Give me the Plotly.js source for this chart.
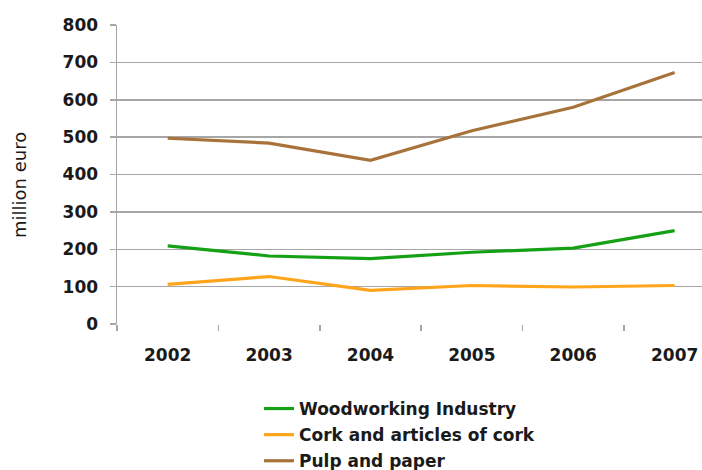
<!DOCTYPE html>
<html>
<head>
<meta charset="utf-8">
<script src="https://cdn.plot.ly/plotly-3.0.1.min.js"></script>
<style>html,body{margin:0;padding:0;background:#fff;}#chart{width:702px;height:470px;}</style>
</head>
<body>
<div id="chart"></div>
<script>
var years = ["2002", "2003", "2004", "2005", "2006", "2007"];
var woodworking = [209, 182, 175, 192, 203, 250];
var cork = [106, 127, 90, 103, 99, 103];
var pulpPaper = [497, 484, 438, 517, 580, 673];
var seriesNames = ["Woodworking Industry", "Cork and articles of cork", "Pulp and paper"];
var yTicks = [0, 100, 200, 300, 400, 500, 600, 700, 800];
var yTitle = "million euro";

var colors = ["#16a016", "#ffa51c", "#a8733a"];
var font = "DejaVu Sans, Liberation Sans, Arial, sans-serif";
var seriesData = [woodworking, cork, pulpPaper];

var traces = seriesData.map(function (vals, i) {
  return {
    type: "scatter",
    mode: "lines",
    x: years,
    y: vals,
    name: seriesNames[i],
    legendgroup: "g" + i,
    line: {color: colors[i], width: 3.2}
  };
});

var layout = {
  width: 702,
  height: 470,
  margin: {l: 117, r: 0, t: 25, b: 146, autoexpand: false},
  paper_bgcolor: "#ffffff",
  plot_bgcolor: "#ffffff",
  showlegend: true,
  legend: {
    xref: "container", yref: "container",
    x: 259 / 702, xanchor: "left",
    y: 1 - 391 / 470, yanchor: "top",
    font: {family: font, size: 17, color: "#1a1a1a", weight: "bold"},
    tracegroupgap: 1,
    bgcolor: "rgba(0,0,0,0)"
  },
  xaxis: {
    type: "category",
    range: [-0.5, 5.27],
    automargin: false,
    tickangle: 0,
    showgrid: false,
    zeroline: false,
    showline: false,
    ticks: "outside",
    tickson: "boundaries",
    ticklen: 6,
    tickwidth: 1.5,
    tickcolor: "#a6a6a6",
    ticklabelstandoff: 19,
    tickfont: {family: font, size: 17, color: "#1a1a1a", weight: "bold"}
  },
  yaxis: {
    range: [0, 800],
    automargin: false,
    tickvals: yTicks,
    ticktext: yTicks.map(String),
    showgrid: true,
    gridcolor: "#a6a6a6",
    gridwidth: 1.5,
    zeroline: false,
    showline: true,
    linecolor: "#a6a6a6",
    linewidth: 1.5,
    ticks: "outside",
    ticklen: 6,
    tickwidth: 1.5,
    tickcolor: "#a6a6a6",
    ticklabelstandoff: 8,
    tickfont: {family: font, size: 17, color: "#1a1a1a", weight: "bold"}
  },
  annotations: [{
    text: yTitle,
    xref: "paper", yref: "paper",
    x: (19 - 117) / 585, y: (324 - 185) / 299,
    xanchor: "center", yanchor: "middle",
    textangle: -90,
    showarrow: false,
    font: {family: font, size: 18, color: "#1a1a1a"}
  }]
};

Plotly.newPlot("chart", traces, layout, {displayModeBar: false, staticPlot: true});
</script>
</body>
</html>
